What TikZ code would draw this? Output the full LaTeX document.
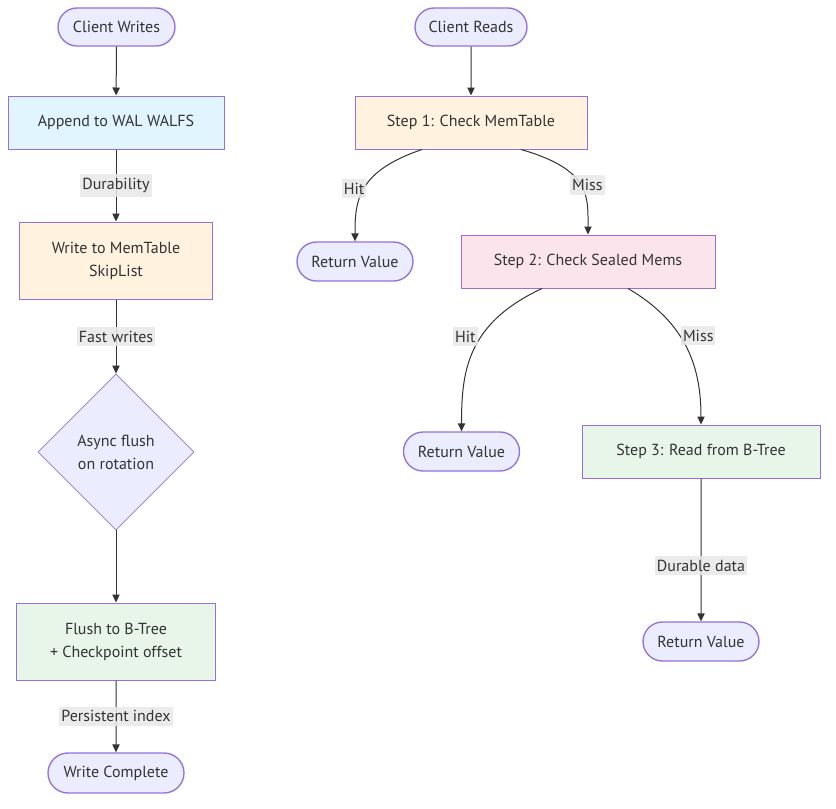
\documentclass[tikz,border=0pt]{standalone}
\usepackage{fontspec}
\setmainfont{PT Sans}
\usetikzlibrary{arrows.meta, shapes.geometric, shapes.misc, calc}
\definecolor{clrTerm} {HTML}{ECECFF}
\definecolor{clrEdge} {HTML}{9370DB}
\definecolor{clrWal}  {HTML}{E1F5FE}
\definecolor{clrMem}  {HTML}{FFF3E0}
\definecolor{clrTree} {HTML}{E8F5E9}
\definecolor{clrSeal} {HTML}{FCE4EC}
\definecolor{clrArr}  {HTML}{333333}
\definecolor{clrLbl}  {HTML}{E8E8E8}
\definecolor{clrTxt}  {HTML}{333333}
\tikzset{
  box/.style = {
    rectangle, draw=clrEdge, line width=0.75pt,
    align=center, inner sep=0pt, text=clrTxt,
    font=\fontsize{12}{17.25}\selectfont,
  },
  term/.style   = {box, rounded rectangle, fill=clrTerm, line width=1pt},
  wal/.style    = {box, fill=clrWal},
  mem/.style    = {box, fill=clrMem},
  tree/.style   = {box, fill=clrTree},
  sealed/.style = {box, fill=clrSeal},
  decide/.style = {box, diamond, fill=clrTerm, line width=0.6pt,
                   minimum width=117pt, minimum height=117pt},
  arr/.style  = {-{Triangle[length=6pt, width=5.5pt]}, line width=0.75pt, color=clrArr},
  elbl/.style = {fill=clrLbl, fill opacity=0.85, text opacity=1, text=clrTxt,
                 font=\fontsize{12}{14}\selectfont,
                 inner xsep=1.5pt, inner ysep=3pt},
}
\begin{document}
\begin{tikzpicture}[x=0.75pt, y=-0.75pt]
\useasboundingbox (0,0) rectangle (836,808);

% ---- write path (left column) ----
\node[term, minimum width=87.75pt, minimum height=28.5pt] (cw)  at (116.5, 27)   {Client Writes};
\node[wal,  minimum width=162pt,   minimum height=39.75pt] (wal) at (116, 122.5) {Append to WAL WALFS};
\node[mem,  minimum width=144.75pt, minimum height=57.75pt] (mem) at (116, 260.5) {Write to MemTable\\SkipList};
\node[decide] (flsh) at (116, 452) {Async flush\\on rotation};
\node[tree, minimum width=149.25pt, minimum height=57.75pt] (btw) at (116, 641.5) {Flush to B-Tree\\+ Checkpoint offset};
\node[term, minimum width=102pt, minimum height=30pt] (wdone) at (116, 773) {Write Complete};

% ---- read path (right side) ----
\node[term,   minimum width=84pt,    minimum height=28.5pt]  (cr)  at (471, 27)    {Client Reads};
\node[mem,    minimum width=174pt,   minimum height=39.75pt] (s1)  at (471, 122.5) {Step 1: Check MemTable};
\node[term,   minimum width=87pt,    minimum height=29.25pt] (rv1) at (355, 261.5) {Return Value};
\node[sealed, minimum width=190.5pt, minimum height=39.75pt] (s2)  at (588, 261.5) {Step 2: Check Sealed Mems};
\node[term,   minimum width=87pt,    minimum height=29.25pt] (rv2) at (461.5, 451.5) {Return Value};
\node[tree,   minimum width=178.5pt, minimum height=39.75pt] (s3)  at (701, 451.5) {Step 3: Read from B-Tree};
\node[term,   minimum width=87pt,    minimum height=29.25pt] (rv3) at (701, 641.5) {Return Value};

% ---- arrows: writes ----
\draw[arr] (cw)  -- (wal);
\draw[arr] (wal) -- (mem) node[elbl, midway]{Durability};
\draw[arr] (mem) -- (flsh) node[elbl, midway]{Fast writes};
\draw[arr] (flsh) -- (btw);
\draw[arr] (btw) -- (wdone) node[elbl, midway]{Persistent index};

% ---- arrows: reads (labels sit a little beside the curves) ----
\draw[arr] (cr) -- (s1);
\draw[arr] ($(s1.south)+(-49,0)$) .. controls +(-65,22) and +(0,-40) .. (rv1.north)
           node[elbl, pos=0.5, xshift=-7.5pt]{Hit};
\draw[arr] ($(s1.south)+(50,0)$) .. controls +(70,20) and +(0,-38) .. (s2.north)
           node[elbl, pos=0.5, xshift=5pt]{Miss};
\draw[arr] ($(s2.south)+(-46,0)$) .. controls +(-75,35) and +(0,-60) .. (rv2.north)
           node[elbl, pos=0.4, xshift=-12pt]{Hit};
\draw[arr] ($(s2.south)+(40,0)$) .. controls +(60,35) and +(0,-55) .. (s3.north)
           node[elbl, pos=0.4, xshift=14pt]{Miss};
\draw[arr] (s3) -- (rv3) node[elbl, pos=0.61]{Durable data};

\end{tikzpicture}
\end{document}
